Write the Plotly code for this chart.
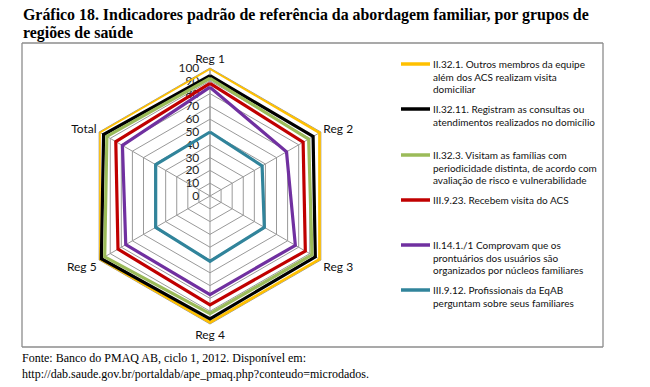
import plotly.graph_objects as go

W, H = 650, 387

categories = ["Reg 1", "Reg 2", "Reg 3", "Reg 4", "Reg 5", "Total"]
series_lines = [
    ["II.32.1. Outros membros da equipe", "além dos ACS realizam visita", "domiciliar"],
    ["II.32.11. Registram as consultas ou", "atendimentos realizados no domicílio"],
    ["II.32.3. Visitam as famílias com", "periodicidade distinta, de acordo com", "avaliação de risco e vulnerabilidade"],
    ["III.9.23. Recebem visita do ACS"],
    ["II.14.1./1 Comprovam que os", "prontuários dos usuários são", "organizados por núcleos familiares"],
    ["III.9.12. Profissionais da EqAB", "perguntam sobre seus familiares"],
]
outros_membros = [100, 99, 99, 99, 100, 100]
registram = [94, 93, 95, 96, 98, 96]
visitam = [92, 89, 92, 92, 95, 93]
recebem_acs = [88, 84, 86, 85, 83, 85]
prontuarios = [85, 69, 77, 77, 76, 79]
perguntam = [50, 47, 49, 51, 49, 49]
series_values = [outros_membros, registram, visitam, recebem_acs, prontuarios, perguntam]
colors = ["#FFC000", "#000000", "#9BBB59", "#C00000", "#7030A0", "#31849B"]
radial_ticks = list(range(0, 101, 10))
title_lines = ["<b>Gráfico 18. Indicadores padrão de referência da abordagem familiar, por grupos de</b>",
               "<b>regiões de saúde</b>"]
source_lines = ["Fonte: Banco do PMAQ AB, ciclo 1, 2012. Disponível em:",
                "http://dab.saude.gov.br/portaldab/ape_pmaq.php?conteudo=microdados."]

fig = go.Figure()
for lines, vals, col in zip(series_lines, series_values, colors):
    fig.add_trace(go.Scatterpolar(
        r=vals + vals[:1], theta=categories + categories[:1],
        mode="lines", line=dict(color=col, width=3.2),
        name=" ".join(lines), showlegend=False))

cx, cy, R = 210, 196, 128
fig.update_layout(
    width=W, height=H, margin=dict(l=0, r=0, t=0, b=0),
    paper_bgcolor="white", plot_bgcolor="white",
    polar=dict(
        domain=dict(x=[(cx - R) / W, (cx + R) / W], y=[(H - cy - R) / H, (H - cy + R) / H]),
        gridshape="linear", bgcolor="white",
        radialaxis=dict(range=[0, 100], tickvals=radial_ticks, angle=90, tickangle=90,
                        side="counterclockwise",
                        showline=True, linecolor="#999", linewidth=1, gridcolor="#999", gridwidth=1,
                        ticks="outside", ticklen=6, tickcolor="rgba(0,0,0,0)",
                        tickfont=dict(family="Lato", size=12, color="#222"), layer="below traces"),
        angularaxis=dict(rotation=90, direction="clockwise", showline=True, linecolor="#999",
                         gridcolor="#999", gridwidth=1, ticks="",
                         tickfont=dict(family="Lato", size=12, color="#111"), layer="below traces"),
    ),
)


def px(x, y):
    return x / W, (H - y) / H


shapes = []
bx0, by0, bx1, by1 = 22, 43, 603, 347
for (xa, ya, xb, yb) in [(bx0, by0, bx1, by0), (bx0, by1, bx1, by1), (bx0, by0, bx0, by1), (bx1, by0, bx1, by1)]:
    (x0, y0), (x1, y1) = px(xa, ya), px(xb, yb)
    shapes.append(dict(type="line", xref="paper", yref="paper", x0=x0, y0=y0, x1=x1, y1=y1,
                       line=dict(color="#8c8c8c", width=1.3), layer="above"))

annotations = []
legend_y = [64, 109, 155, 200, 245, 290]
for lines, col, ly in zip(series_lines, colors, legend_y):
    shapes.append(dict(type="line", xref="paper", yref="paper", x0=401 / W, x1=430 / W,
                       y0=(H - ly) / H, y1=(H - ly) / H, line=dict(color=col, width=3.5)))
    for i, t in enumerate(lines):
        annotations.append(dict(xref="paper", yref="paper", x=431 / W, y=(H - ly - i * 12.7) / H,
                                xanchor="left", yanchor="middle", align="left", showarrow=False,
                                text=t, font=dict(family="Lato", size=10, color="#111")))

for i, t in enumerate(title_lines):
    annotations.append(dict(xref="paper", yref="paper", x=21 / W, y=(H - 15.5 - i * 17.5) / H,
                            xanchor="left", yanchor="middle", align="left", showarrow=False,
                            text=t, font=dict(family="Liberation Serif", size=15.9, color="#000")))
for i, t in enumerate(source_lines):
    annotations.append(dict(xref="paper", yref="paper", x=20 / W, y=(H - 358 - i * 16) / H,
                            xanchor="left", yanchor="middle", align="left", showarrow=False,
                            text=t, font=dict(family="Liberation Serif", size=12, color="#000")))

fig.update_layout(shapes=shapes, annotations=annotations)
fig.write_html("out.html", config={"displayModeBar": False},
               post_script="document.body.style.margin='0px';document.body.style.padding='0px';")
